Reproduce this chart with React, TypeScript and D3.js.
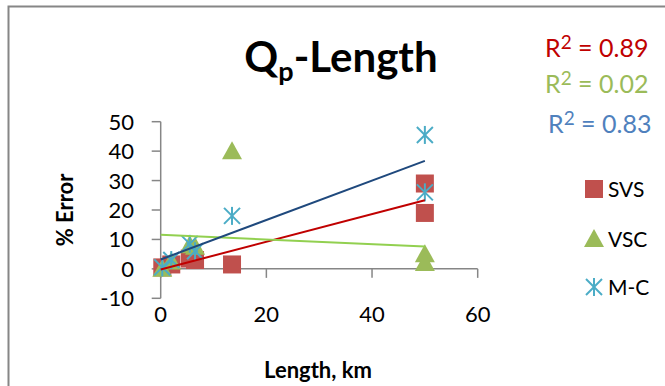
import React from "react";
import * as d3 from "d3";

// Catchment lengths (km) and percentage error for each method
const lengths = [0.3, 2, 5.5, 6.5, 13.5, 50, 50];
const svsError = [0.5, 1.5, 3.5, 3, 1.5, 29, 19];
const vscError = [0, 2.5, 8, 7.5, 40, 5, 2];
const mcError = [0.5, 3, 8.5, 6, 18, 45.5, 26];

// Linear trend lines: [intercept, slope], fitted over 0–50 km
const svsTrend = [-0.2, 0.47];
const vscTrend = [11.6, -0.08];
const mcTrend = [3.2, 0.67];
const trendRange = [0, 50];

const rSquared = ["0.89", "0.02", "0.83"];
const xTicks = [0, 20, 40, 60];
const yTicks = [-10, 0, 10, 20, 30, 40, 50];

const FONT = "Lato, 'Open Sans', sans-serif";
const AXIS = "#868686";

export default function App() {
  const x = d3.scaleLinear().domain([0, 60]).range([160.7, 477.7]);
  const y = d3.scaleLinear().domain([-10, 50]).range([298.3, 121.7]);

  const trendPath = (t: number[]) =>
    d3
      .line<number>()
      .x((d) => x(d))
      .y((d) => y(t[0] + t[1] * d))(trendRange) || "";

  const square = (cx: number, cy: number, key: string | number) => (
    <rect key={key} x={cx - 9} y={cy - 9} width={18} height={18} fill="#C0504D" />
  );
  const triangle = (cx: number, cy: number, key: string | number) => (
    <path
      key={key}
      d={`M${cx},${cy - 10}L${cx + 10},${cy + 8}L${cx - 10},${cy + 8}Z`}
      fill="#9BBB59"
    />
  );
  const star = (cx: number, cy: number, key: string | number) => (
    <g key={key} stroke="#4BACC6" strokeWidth={2}>
      <line x1={cx} y1={cy - 9} x2={cx} y2={cy + 9} />
      <line x1={cx - 8} y1={cy - 8} x2={cx + 8} y2={cy + 8} />
      <line x1={cx - 8} y1={cy + 8} x2={cx + 8} y2={cy - 8} />
    </g>
  );

  return (
    <svg
      width={665}
      height={386}
      style={{ position: "absolute", left: 0, top: 0, background: "#fff" }}
      fontFamily={FONT}
    >
      {/* chart frame */}
      <rect x={8.5} y={6.5} width={700} height={420} fill="#fff" stroke={AXIS} strokeWidth={2} />

      {/* title */}
      <text x={341} y={72} textAnchor="middle" fontSize={42} fontWeight="bold" fill="#000">
        Q<tspan fontSize={27} dy={9}>p</tspan>
        <tspan dy={-9}>-Length</tspan>
      </text>

      {/* y axis */}
      <line x1={x(0)} x2={x(0)} y1={y(-10)} y2={y(50)} stroke={AXIS} strokeWidth={1.5} />
      {yTicks.map((t) => (
        <g key={t}>
          <line x1={x(0) - 9} x2={x(0)} y1={y(t)} y2={y(t)} stroke={AXIS} strokeWidth={1.5} />
          <text x={134} y={y(t) + 8} textAnchor="end" fontSize={22} fill="#000">
            {t}
          </text>
        </g>
      ))}

      {/* x axis at zero */}
      <line x1={x(0)} x2={x(60)} y1={y(0)} y2={y(0)} stroke={AXIS} strokeWidth={1.5} />
      {xTicks.map((t) => (
        <g key={t}>
          <line x1={x(t)} x2={x(t)} y1={y(0)} y2={y(0) + 9} stroke={AXIS} strokeWidth={1.5} />
          <text x={x(t)} y={322} textAnchor="middle" fontSize={22} fill="#000">
            {t}
          </text>
        </g>
      ))}

      {/* axis titles */}
      <text
        transform="translate(73,210) rotate(-90)"
        textAnchor="middle"
        fontSize={22}
        fontWeight="bold"
        fill="#000"
      >
        % Error
      </text>
      <text x={318} y={378} textAnchor="middle" fontSize={22} fontWeight="bold" fill="#000">
        Length, km
      </text>

      {/* markers */}
      {lengths.map((l, i) => square(x(l), y(svsError[i]), `s${i}`))}
      {lengths.map((l, i) => triangle(x(l), y(vscError[i]), `t${i}`))}
      {lengths.map((l, i) => star(x(l), y(mcError[i]), `m${i}`))}

      {/* trend lines */}
      <path d={trendPath(svsTrend)} stroke="#C00000" strokeWidth={2} fill="none" />
      <path d={trendPath(vscTrend)} stroke="#92D050" strokeWidth={2} fill="none" />
      <path d={trendPath(mcTrend)} stroke="#1F497D" strokeWidth={2} fill="none" />

      {/* R² labels */}
      <text x={545} y={57} fontSize={25} fill="#C00000">
        R<tspan fontSize={19} dy={-8}>2</tspan><tspan dy={8}> = {rSquared[0]}</tspan>
      </text>
      <text x={545} y={93} fontSize={25} fill="#9BBB59">
        R<tspan fontSize={19} dy={-8}>2</tspan><tspan dy={8}> = {rSquared[1]}</tspan>
      </text>
      <text x={548} y={133} fontSize={25} fill="#4F81BD">
        R<tspan fontSize={19} dy={-8}>2</tspan><tspan dy={8}> = {rSquared[2]}</tspan>
      </text>

      {/* legend */}
      {square(594, 189, "ls")}
      <text x={608} y={197} fontSize={21} fill="#000">SVS</text>
      {triangle(594, 239, "lt")}
      <text x={608} y={247} fontSize={21} fill="#000">VSC</text>
      {star(594, 287, "lm")}
      <text x={608} y={295} fontSize={21} fill="#000">M-C</text>
    </svg>
  );
}
